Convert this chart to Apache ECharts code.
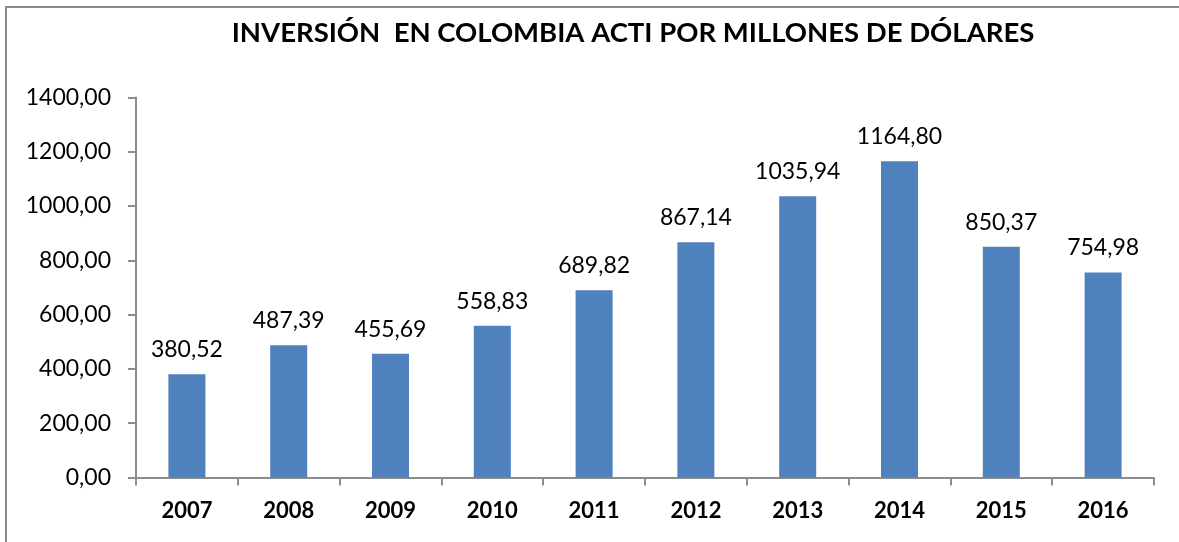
<!DOCTYPE html>
<html>
<head>
<meta charset="utf-8">
<script src="https://cdn.jsdelivr.net/npm/echarts@6/dist/echarts.min.js"></script>
<style>
  html, body { margin: 0; padding: 0; background: #ffffff; }
  #chart { width: 1179px; height: 542px; }
</style>
</head>
<body>
<div id="chart"></div>
<script>
// Inversión anual en ACTI (millones de dólares)
const years = ['2007', '2008', '2009', '2010', '2011', '2012', '2013', '2014', '2015', '2016'];
const investment = [380.52, 487.39, 455.69, 558.83, 689.82, 867.14, 1035.94, 1164.80, 850.37, 754.98];
const chartTitle = 'INVERSIÓN  EN COLOMBIA ACTI POR MILLONES DE DÓLARES';

const fmt = v => v.toFixed(2).replace('.', ',');
const FONT = 'Lato, "Open Sans", sans-serif';
const AXIS_GRAY = '#8c8c8c';

const chart = echarts.init(document.getElementById('chart'), null, { renderer: 'canvas' });
chart.setOption({
  backgroundColor: '#ffffff',
  animation: false,
  title: {
    text: chartTitle,
    left: 628,
    textAlign: 'center',
    top: 14,
    textStyle: { fontFamily: FONT, fontWeight: 'bold', fontSize: 27.5, color: '#000000' }
  },
  graphic: [{
    type: 'rect',
    shape: { x: 6, y: 7, width: 1200, height: 600 },
    style: { fill: 'none', stroke: '#8a8a8a', lineWidth: 2 },
    silent: true,
    z: 100
  }],
  grid: { left: 136, right: 25, top: 97.5, bottom: 64.5, containLabel: false },
  xAxis: {
    type: 'category',
    data: years,
    axisLine: { lineStyle: { color: AXIS_GRAY, width: 2 } },
    axisTick: { show: true, alignWithLabel: false, length: 8, lineStyle: { color: AXIS_GRAY, width: 2 } },
    axisLabel: { margin: 22, fontFamily: FONT, fontWeight: 'bold', fontSize: 22, color: '#000000' }
  },
  yAxis: {
    type: 'value',
    min: 0,
    max: 1400,
    interval: 200,
    splitLine: { show: false },
    axisLine: { show: true, lineStyle: { color: AXIS_GRAY, width: 2 } },
    axisTick: { show: true, length: 8, lineStyle: { color: AXIS_GRAY, width: 2 } },
    axisLabel: { margin: 25, fontFamily: FONT, fontSize: 23, color: '#000000', formatter: v => fmt(v) }
  },
  series: [{
    type: 'bar',
    data: investment,
    barWidth: 37,
    itemStyle: { color: '#4f81bd' },
    label: {
      show: true,
      position: 'top',
      distance: 13,
      fontFamily: FONT,
      fontSize: 23,
      color: '#000000',
      formatter: p => fmt(p.value)
    }
  }]
});
</script>
</body>
</html>
